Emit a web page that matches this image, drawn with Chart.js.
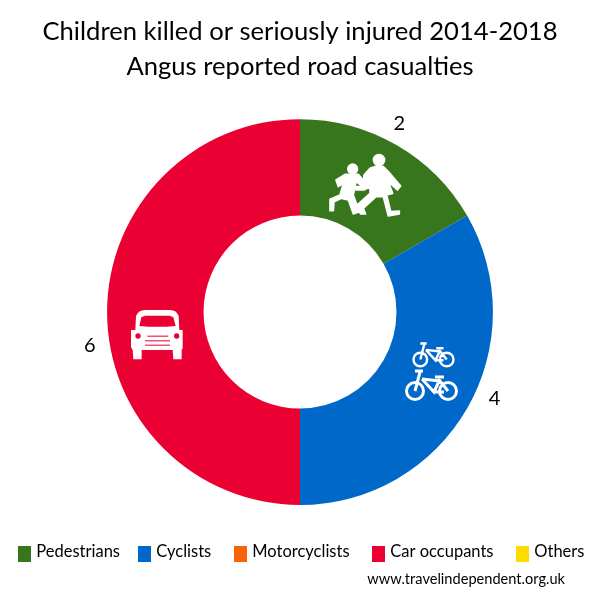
<!DOCTYPE html>
<html>
<head>
<meta charset="utf-8">
<style>
  html, body { margin: 0; padding: 0; background: #fff; }
  #wrap { width: 600px; height: 600px; }
</style>
</head>
<body>
<div id="wrap"><canvas id="chart" width="600" height="600"></canvas></div>
<script src="https://cdn.jsdelivr.net/npm/chart.js@4"></script>
<script>
var titleLines = ['Children killed or seriously injured 2014-2018', 'Angus reported road casualties'];
var categories = ['Pedestrians', 'Cyclists', 'Motorcyclists', 'Car occupants', 'Others'];
var casualties = [2, 4, 0, 6, 0];
var sliceColours = ['#38761d', '#0068c8', '#f96308', '#eb0033', '#ffdc00'];
var creditText = 'www.travelindependent.org.uk';

// legend swatch left edges
var legendX = [18, 138, 234, 372, 516];
// nudge of each value label round the ring, in degrees
var labelNudge = [-2.2, -6, 0, -9, 0];

var fontName = 'Lato, "Open Sans", sans-serif';

// icons
var childrenPath = new Path2D(
  'M150,85 L170,78 L190,80 L205,95 L242,138 L232,150 L205,125 L218,160 L200,165 L212,215 L238,213 L238,222 L205,228 ' +
  'L190,170 L168,170 L130,205 L137,222 L122,222 L108,198 L150,160 L150,140 L132,150 L108,150 L108,140 L128,140 L132,105 Z ' +
  'M75,103 L115,103 L125,115 L135,130 L128,140 L108,125 L100,165 L118,215 L100,222 L85,180 L65,175 L42,185 L40,212 L30,212 ' +
  'L30,178 L60,165 L70,130 L55,140 L48,120 Z');
var carBody = new Path2D(
  'M48,48 Q55,30 75,30 L150,30 Q170,30 176,48 L178,90 L188,90 L188,145 L185,150 L185,178 L160,178 L158,150 L65,150 ' +
  'L65,178 L40,178 L38,150 L33,142 L33,90 L46,90 Z');
var carWindow = new Path2D('M58,78 L64,52 L75,47 L150,47 L160,52 L167,78 L140,80 L85,80 Z');

function drawChildren(ctx) {
  ctx.save();
  ctx.translate(320, 140);
  ctx.scale(1 / 3, 1 / 3);
  ctx.fillStyle = '#fff';
  ctx.strokeStyle = '#fff';
  ctx.lineWidth = 5;
  ctx.lineJoin = 'round';
  ctx.fill(childrenPath);
  ctx.stroke(childrenPath);
  ctx.beginPath();
  ctx.arc(177, 60, 19, 0, Math.PI * 2);
  ctx.moveTo(115, 87);
  ctx.arc(98, 87, 17, 0, Math.PI * 2);
  ctx.fill();
  ctx.restore();
}

function drawBike(ctx, x, y, s) {
  ctx.save();
  ctx.translate(x, y);
  ctx.scale(s, s);
  ctx.strokeStyle = '#fff';
  ctx.lineWidth = 3;
  ctx.beginPath();
  ctx.arc(0, 0, 8.5, 0, Math.PI * 2);
  ctx.moveTo(41.5, 0);
  ctx.arc(33, 0, 8.5, 0, Math.PI * 2);
  ctx.moveTo(0, 0); ctx.lineTo(5, -19);
  ctx.moveTo(0, -20); ctx.lineTo(8, -20);
  ctx.moveTo(7, -12); ctx.lineTo(25, -10);
  ctx.moveTo(7, -12); ctx.lineTo(19, 1);
  ctx.lineTo(25, -12);
  ctx.moveTo(25, -10); ctx.lineTo(33, 0);
  ctx.moveTo(20, -14); ctx.lineTo(29, -14);
  ctx.moveTo(19, 1); ctx.lineTo(29, 1);
  ctx.stroke();
  ctx.restore();
}

function drawCar(ctx) {
  ctx.save();
  ctx.translate(120, 300);
  ctx.scale(1 / 3, 1 / 3);
  ctx.fillStyle = '#fff';
  ctx.fill(carBody);
  ctx.fillStyle = sliceColours[3];
  ctx.fill(carWindow);
  ctx.beginPath();
  ctx.arc(54, 108, 8, 0, Math.PI * 2);
  ctx.moveTo(178, 108);
  ctx.arc(170, 108, 8, 0, Math.PI * 2);
  ctx.fill();
  ctx.fillRect(82, 107, 63, 3);
  ctx.fillRect(75, 121, 75, 3);
  ctx.fillRect(75, 134, 75, 3);
  ctx.restore();
}

var extras = {
  id: 'extras',
  afterDraw: function(chart) {
    var ctx = chart.ctx;
    var arcs = chart.getDatasetMeta(0).data;

    drawChildren(ctx);
    drawBike(ctx, 415, 391, 1);
    drawBike(ctx, 420.3, 359.5, 0.8);
    drawCar(ctx);

    // value labels outside the ring
    ctx.save();
    ctx.fillStyle = '#000';
    ctx.font = '20px ' + fontName;
    ctx.textAlign = 'center';
    ctx.textBaseline = 'middle';
    arcs.forEach(function(arc, i) {
      if (!casualties[i]) return;
      var a = (arc.startAngle + arc.endAngle) / 2 + labelNudge[i] * Math.PI / 180;
      var r = arc.outerRadius + 20;
      ctx.fillText(String(casualties[i]), arc.x + Math.cos(a) * r, arc.y + Math.sin(a) * r);
    });

    // legend
    ctx.font = '16.5px ' + fontName;
    ctx.textAlign = 'left';
    ctx.textBaseline = 'alphabetic';
    categories.forEach(function(name, i) {
      ctx.fillStyle = sliceColours[i];
      ctx.fillRect(legendX[i], 546, 13, 16);
      ctx.fillStyle = '#000';
      ctx.fillText(name, legendX[i] + 18.3, 557);
    });

    ctx.font = '14.6px ' + fontName;
    ctx.textAlign = 'right';
    ctx.fillText(creditText, 565, 584);
    ctx.restore();
  }
};

new Chart(document.getElementById('chart'), {
  type: 'doughnut',
  data: {
    labels: categories,
    datasets: [{
      data: casualties,
      backgroundColor: sliceColours,
      borderWidth: 0
    }]
  },
  options: {
    responsive: false,
    animation: false,
    cutout: '50%',
    layout: { padding: { top: 0, bottom: 95 } },
    plugins: {
      legend: { display: false },
      tooltip: { enabled: false },
      title: {
        display: true,
        text: titleLines,
        color: '#000',
        font: { family: fontName, size: 25.6, weight: 'normal', lineHeight: 1.37 },
        padding: { top: 14, bottom: 35 }
      }
    }
  },
  plugins: [extras]
});
</script>
</body>
</html>
